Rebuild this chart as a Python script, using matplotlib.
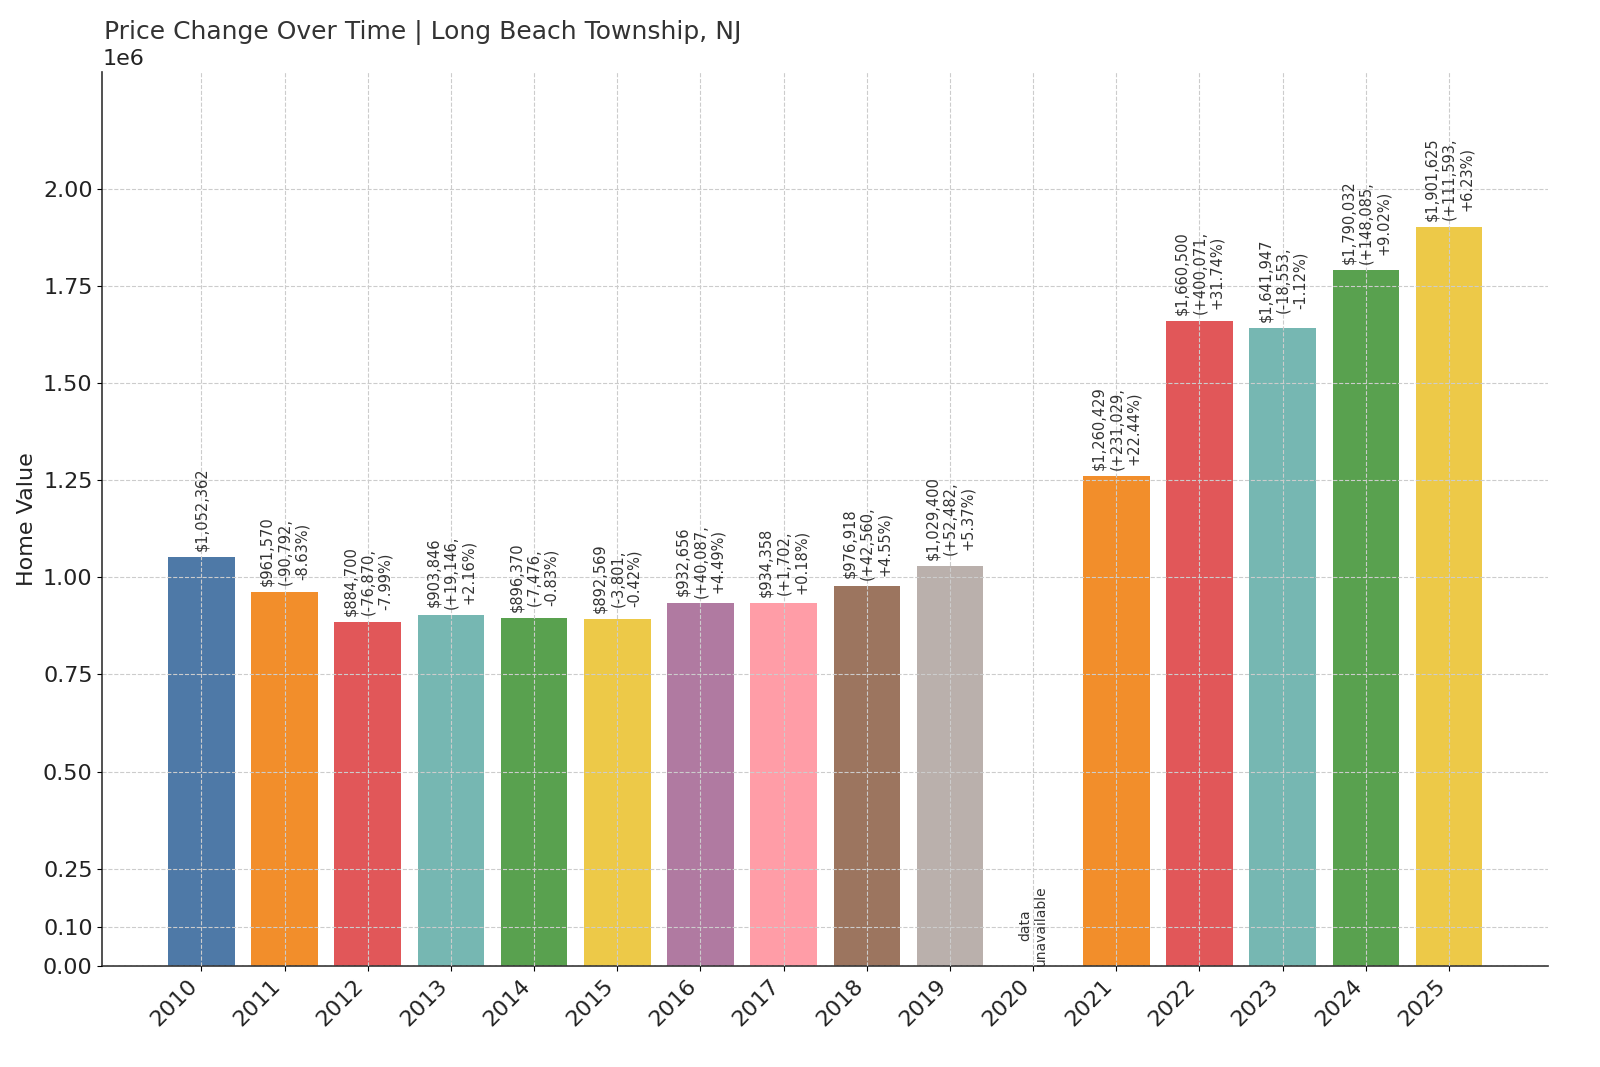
import matplotlib
matplotlib.use("Agg")
import matplotlib.pyplot as plt
import numpy as np

years = ["2010", "2011", "2012", "2013", "2014", "2015", "2016", "2017",
         "2018", "2019", "2020", "2021", "2022", "2023", "2024", "2025"]
values = [1052362, 961570, 884700, 903846, 896370, 892569, 932656, 934358,
          976918, 1029400, None, 1260429, 1660500, 1641947, 1790032, 1901625]
labels = ["$1,052,362",
          "$961,570\n(-90,792,\n-8.63%)",
          "$884,700\n(-76,870,\n-7.99%)",
          "$903,846\n(+19,146,\n+2.16%)",
          "$896,370\n(-7,476,\n-0.83%)",
          "$892,569\n(-3,801,\n-0.42%)",
          "$932,656\n(+40,087,\n+4.49%)",
          "$934,358\n(+1,702,\n+0.18%)",
          "$976,918\n(+42,560,\n+4.55%)",
          "$1,029,400\n(+52,482,\n+5.37%)",
          "data\nunavailable",
          "$1,260,429\n(+231,029,\n+22.44%)",
          "$1,660,500\n(+400,071,\n+31.74%)",
          "$1,641,947\n(-18,553,\n-1.12%)",
          "$1,790,032\n(+148,085,\n+9.02%)",
          "$1,901,625\n(+111,593,\n+6.23%)"]
palette = ["#4e79a7", "#f28e2b", "#e15759", "#76b7b2", "#59a14f",
           "#edc948", "#b07aa1", "#ff9da7", "#9c755f", "#bab0ac"]
yticks = [0, 100000, 250000, 500000, 750000, 1000000, 1250000, 1500000, 1750000, 2000000]

fig = plt.figure(figsize=(16, 10.67), dpi=100)
ax = fig.add_axes([0.064, 0.0947, 0.9035, 0.8378])

x = np.arange(len(years))
heights = [v if v is not None else 0 for v in values]
colors = [palette[i % len(palette)] for i in range(len(years))]
ax.bar(x, heights, width=0.8, color=colors, zorder=1)

for i, (v, lab) in enumerate(zip(values, labels)):
    if v is None:
        ax.text(x[i], 0, lab, rotation=90, ha="center", va="bottom",
                fontsize=10, color="#333333", multialignment="center", zorder=3)
    else:
        ax.text(x[i], v + 15000, lab, rotation=90, ha="center", va="bottom",
                fontsize=10.5, color="#333333", multialignment="center", zorder=3)

ax.set_xticks(x)
ax.set_xticklabels(years, rotation=45, ha="right", fontsize=16, color="#222222")
ax.set_yticks(yticks)
ax.set_yticklabels([f"{t/1e6:.2f}" for t in yticks], fontsize=16, color="#222222")
ax.set_ylim(0, 2.3e6)
ax.set_xlim(-1.19, 15 + 1.19)
ax.text(0.0, 1.003, "1e6", transform=ax.transAxes, fontsize=16, color="#222222",
        ha="left", va="bottom")

ax.grid(True, linestyle="--", color="#cccccc", linewidth=0.8, zorder=2)
ax.set_axisbelow(False)
for s in ["top", "right"]:
    ax.spines[s].set_visible(False)
ax.spines["left"].set_color("#333333")
ax.spines["bottom"].set_color("#333333")
ax.spines["left"].set_linewidth(1.2)
ax.spines["bottom"].set_linewidth(1.2)

ax.set_ylabel("Home Value", fontsize=16, color="#222222")
fig.text(0.065, 0.958, "Price Change Over Time | Long Beach Township, NJ",
         fontsize=18, color="#333333", ha="left", va="bottom")

fig.savefig("out.png", dpi=100)
